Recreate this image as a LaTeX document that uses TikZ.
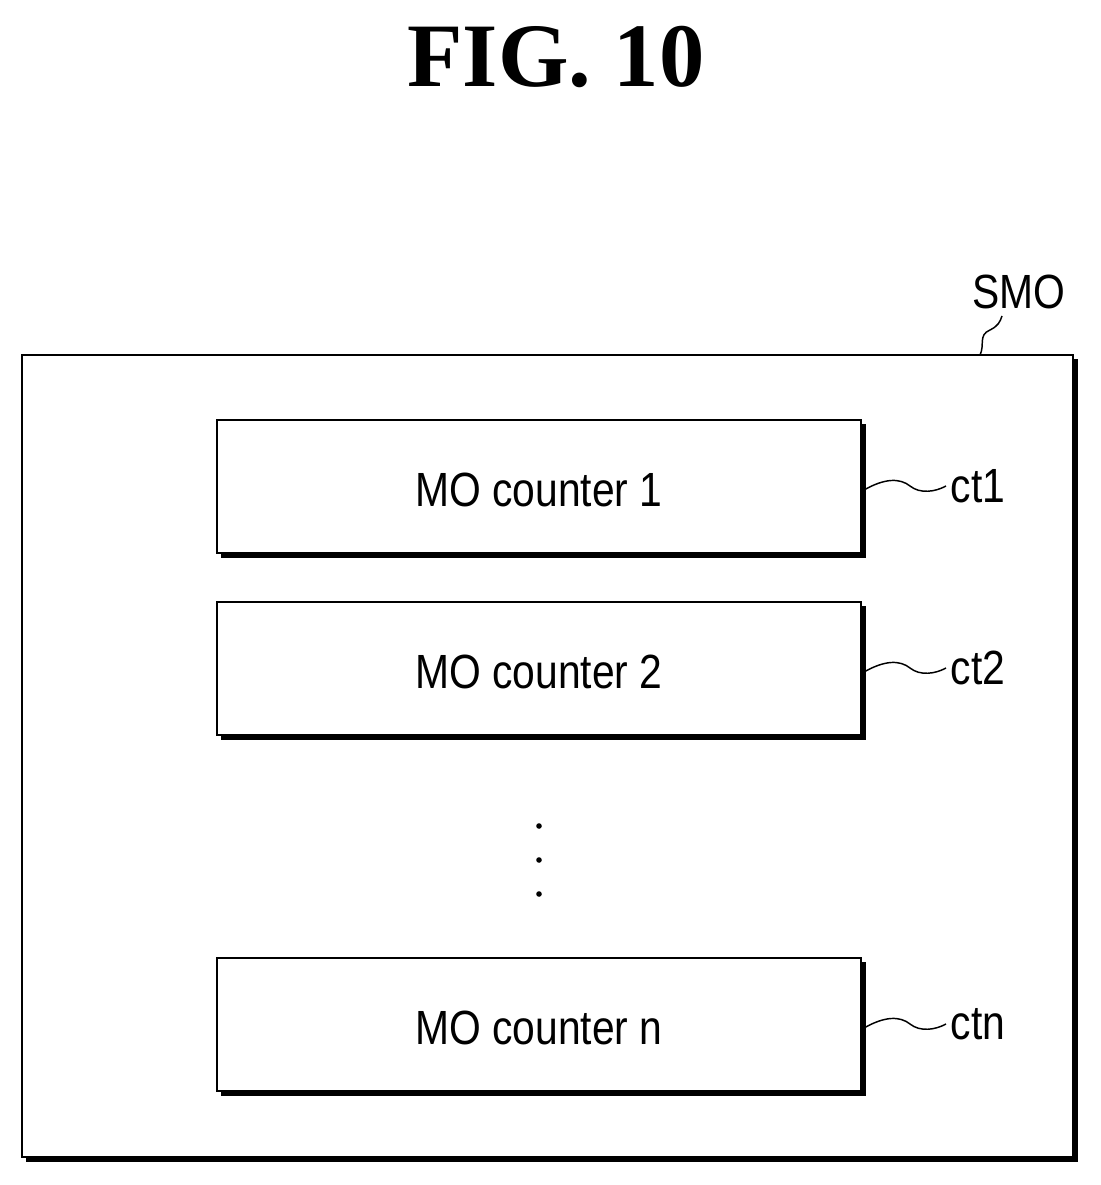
\documentclass[tikz,border=0pt]{standalone}
\usepackage{fontspec}
\setmainfont{Liberation Sans}
\newfontfamily\titlefont{Liberation Serif}
\begin{document}
\begin{tikzpicture}[x=0.75pt,y=-0.75pt,
  box/.style={draw,line width=1.2pt,fill=white},
  shadow/.style={draw,line width=2.5pt},
  lbl/.style={font=\fontsize{36}{40}\selectfont},
  lead/.style={line width=1.1pt}]
\useasboundingbox (0,0) rectangle (1100,1185);
\node (title) at (556,57) {\titlefont\bfseries\fontsize{68}{70}\selectfont FIG. 10};
% outer
\draw[shadow] (26,1160) -- (1076,1160) -- (1076,359);
\draw[box] (22,355) rectangle (1073,1157);
\coordinate (smoa) at (980,355);
\node[lbl,anchor=west] (smo) at (968,292) {\scalebox{0.85}[1]{SMO}};
\draw[lead] (smoa) .. controls (985,345) and (978,335) .. (990,330) .. controls (998,326) and (1000,322) .. (1002,316);
% counters
\foreach \i/\y/\t/\l in {1/420/1/ct1,2/602/2/ct2,3/958/n/ctn}{
  \draw[shadow] (221,\y+136) -- (864,\y+136) -- (864,\y+4);
  \draw[box] (217,\y) rectangle (861,\y+133);
  \node[lbl] (c\i) at (539,\y+70) {\scalebox{0.85}[1]{MO counter \t}};
  \coordinate (a\i) at (864,\y+70);
  \node[lbl,anchor=west] (t\i) at (946,\y+66) {\scalebox{0.85}[1]{\l}};
  \draw[lead] (a\i) .. controls (885,\y+58) and (900,\y+58) .. (910,\y+66) .. controls (920,\y+74) and (935,\y+72) .. (t\i.west);
}
\foreach \y in {826,860,894} \fill (539,\y) circle (2.8);
\end{tikzpicture}
\end{document}
